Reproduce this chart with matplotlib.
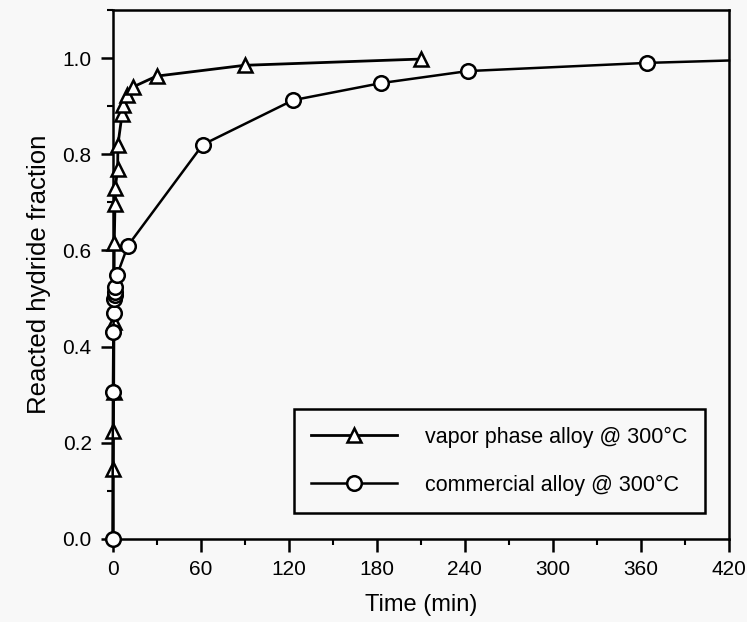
import numpy as np
import matplotlib
matplotlib.use("Agg")
import matplotlib.pyplot as plt
from matplotlib.ticker import MultipleLocator

# data (time in min, reacted fraction)
vapor_t = [0.3, 0.5, 0.8, 1.0, 1.2, 1.7, 1.9, 3.5, 3.7, 6.5, 7.2, 9.9, 14, 30, 90, 210]
vapor_y = [0.146, 0.225, 0.306, 0.452, 0.615, 0.696, 0.730, 0.770, 0.820,
           0.883, 0.902, 0.923, 0.940, 0.9625, 0.985, 0.998]

# last point sits on the right edge, no marker drawn there
comm_t = [0, 0.3, 0.6, 0.9, 1.2, 1.5, 1.8, 2.0, 3.0, 10.5, 61.5, 123, 183, 242, 364, 420]
comm_y = [0.0, 0.306, 0.430, 0.469, 0.500, 0.508, 0.514, 0.525, 0.548,
          0.610, 0.820, 0.9125, 0.948, 0.973, 0.990, 0.995]

labels = ["vapor phase alloy @ 300°C", "commercial alloy @ 300°C"]

plt.rcParams['font.family'] = ['Liberation Sans', 'DejaVu Sans']
plt.rcParams['legend.numpoints'] = 1

bg = '#f8f8f8'
fig = plt.figure(figsize=(7.47, 6.22), dpi=100, facecolor=bg)
ax = fig.add_axes([112.5/747, 1 - 539/622, (729 - 112.5)/747, (539 - 10)/622])
ax.set_facecolor(bg)

ax.plot(vapor_t, vapor_y, color='black', linewidth=2.0, marker='^', markersize=10.5,
        markerfacecolor='white', markeredgecolor='black', markeredgewidth=1.8,
        label=labels[0], zorder=3, clip_on=False)
ax.plot(comm_t, comm_y, color='black', linewidth=1.8, marker='o', markersize=10.5,
        markerfacecolor='white', markeredgecolor='black', markeredgewidth=1.8,
        markevery=list(range(len(comm_t) - 1)),
        label=labels[1], zorder=4, clip_on=False)

ax.set_xlim(0, 420)
ax.set_ylim(0, 1.1)
ax.xaxis.set_major_locator(MultipleLocator(60))
ax.xaxis.set_minor_locator(MultipleLocator(30))
ax.yaxis.set_major_locator(MultipleLocator(0.2))
ax.yaxis.set_minor_locator(MultipleLocator(0.1))
ax.yaxis.set_major_formatter(matplotlib.ticker.FormatStrFormatter('%.1f'))

ax.tick_params(which='major', direction='out', length=9, width=1.8, labelsize=15, pad=6)
ax.tick_params(which='minor', direction='out', length=4, width=1.5)
for s in ax.spines.values():
    s.set_linewidth(1.8)

ax.set_xlabel('Time (min)', fontsize=17, labelpad=11)
ax.set_ylabel('Reacted hydride fraction', fontsize=18.5, labelpad=8)

leg = ax.legend(loc='lower right', bbox_to_anchor=(0.961, 0.049), borderaxespad=0,
                fontsize=15.5, frameon=True, fancybox=False, edgecolor='black',
                facecolor=bg, framealpha=1, handlelength=4.0, handletextpad=1.3,
                labelspacing=1.25, borderpad=0.8)
leg.get_frame().set_linewidth(1.8)

fig.savefig('out.png', dpi=100, facecolor=bg)
